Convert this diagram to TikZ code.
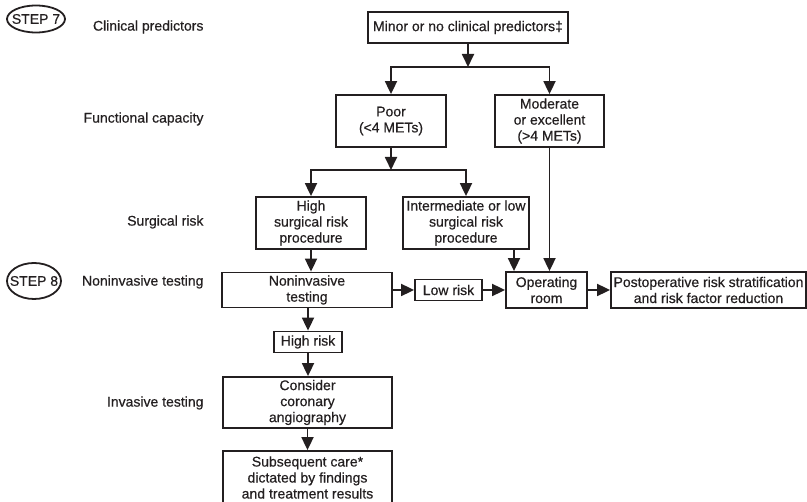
\documentclass[tikz,border=0pt]{standalone}
\usepackage{fontspec}
\setmainfont{Liberation Sans}[FakeBold=0.5]
\usepackage{tikz}
\usetikzlibrary{positioning, arrows.meta, calc}
\definecolor{ink}{HTML}{231F20}

\begin{document}
\begin{tikzpicture}[
  x=1pt, y=-1pt,
  font=\fontsize{14}{16}\selectfont,
  color=ink,
  box/.style={draw=ink, line width=1.8pt, align=center, inner sep=0pt,
              text=ink},
  rowlbl/.style={anchor=east, text=ink},
  oval/.style={draw=ink, line width=1.8pt},
  arr/.style={-{Triangle[length=13pt, width=12pt]}, line width=1.8pt, draw=ink},
  every node/.style={align=center}
]
\path[use as bounding box, clip] (0,0) rectangle (807,502);
% Step markers
\node (step7) at (36,19) {STEP 7};
\draw[oval] (step7.center) ellipse [x radius=29pt, y radius=13.5pt];
\node (step8) at (34,281) {STEP 8};
\draw[oval] (step8.center) ellipse [x radius=27pt, y radius=18pt];
% Row labels
\node[rowlbl] (lblclin)   at (207,27)  {Clinical predictors};
\node[rowlbl] (lblfunc)   at (207,119) {Functional capacity};
\node[rowlbl] (lblsurg)   at (207,222) {Surgical risk};
\node[rowlbl] (lblnoninv) at (207,282) {Noninvasive testing};
\node[rowlbl] (lblinv)    at (207,403) {Invasive testing};
% Clinical predictors and functional capacity
\node[box, minimum width=200pt, minimum height=31pt] (minor) at (468,27.5)
  {Minor or no clinical predictors‡};
\node[box, minimum width=110pt, minimum height=52pt] (poor) at (391,121)
  {Poor\\(<4 METs)};
\node[box, minimum width=109pt, minimum height=52pt] (moderate) at (549.5,121)
  {Moderate\\or excellent\\(>4 METs)};
% Surgical risk
\node[box, minimum width=110pt, minimum height=52pt] (high) at (311,223)
  {High\\surgical risk\\procedure};
\node[box, minimum width=126pt, minimum height=52pt] (inter) at (466,223)
  {Intermediate or low\\surgical risk\\procedure};
% Noninvasive testing row
\node[box, minimum width=170pt, minimum height=35pt] (noninv) at (307,290)
  {Noninvasive\\testing};
\node[box, minimum width=67pt, minimum height=21pt] (lowrisk) at (448.5,290)
  {Low risk};
\node[box, minimum width=81pt, minimum height=36pt] (oproom) at (546.5,290)
  {Operating\\room};
\node[box, minimum width=195pt, minimum height=36pt] (postop) at (708.5,290)
  {Postoperative risk stratification\\and risk factor reduction};
% Invasive testing
\node[box, minimum width=68pt, minimum height=21pt] (highrisk) at (308,342)
  {High risk};
\node[box, minimum width=169pt, minimum height=51pt] (consider) at (307.5,402.5)
  {Consider\\coronary\\angiography};
\node[box, minimum width=169pt, minimum height=53pt] (subseq) at (307.5,477.5)
  {Subsequent care*\\dictated by findings\\and treatment results};
% Branch points
\coordinate (j1) at (468,67);
\coordinate (j2) at (391,170);
\coordinate (interout) at ([xshift=48pt]inter.south);
% Connectors
\draw[arr] (minor.south) -- (j1);
\draw[arr] (j1) -| (poor.north);
\draw[arr] (j1) -| (moderate.north);
\draw[arr] (poor.south) -- (j2);
\draw[arr] (j2) -| (high.north);
\draw[arr] (j2) -| (inter.north);
\draw[arr] (high.south) -- (high.south |- noninv.north);
\draw[arr] (interout) -- (interout |- oproom.north);
\draw[arr] (moderate.south) -- (moderate.south |- oproom.north);
\draw[arr] (noninv.east) -- (lowrisk.west);
\draw[arr] (lowrisk.east) -- (oproom.west);
\draw[arr] (oproom.east) -- (postop.west);
\draw[arr] (highrisk.north |- noninv.south) -- (highrisk.north);
\draw[arr] (highrisk.south) -- (highrisk.south |- consider.north);
\draw[arr] (consider.south) -- (subseq.north);
\end{tikzpicture}
\end{document}
